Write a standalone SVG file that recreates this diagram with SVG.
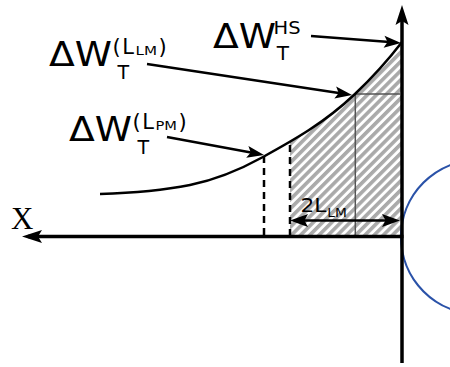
<svg xmlns="http://www.w3.org/2000/svg" width="450" height="367" viewBox="0 0 450 367">
<style>
  .lbl { font-family: "DejaVu Sans", "Liberation Sans", sans-serif; fill: #000; }
  .conn { stroke: #000; stroke-width: 2.5; fill: none; }
  .axis { stroke: #000; stroke-width: 3.5; fill: none; }
  .dash { stroke: #000; stroke-width: 2.5; stroke-dasharray: 7 5; fill: none; }
  .thin { stroke: #555; stroke-width: 1.5; fill: none; }
</style>
<defs>
  <marker id="axhead" markerUnits="userSpaceOnUse" orient="auto" refX="14" refY="0" markerWidth="22" markerHeight="16" overflow="visible">
    <path d="M0,-6.5 L20,0 L0,6.5 L4,0 Z" fill="#000"/>
  </marker>
  <marker id="head" markerUnits="userSpaceOnUse" orient="auto" refX="12" refY="0" markerWidth="20" markerHeight="14" overflow="visible">
    <path d="M0,-6 L17,0 L0,6 L3.5,0 Z" fill="#000"/>
  </marker>
  <marker id="dhead" markerUnits="userSpaceOnUse" orient="auto-start-reverse" refX="12" refY="0" markerWidth="20" markerHeight="16" overflow="visible">
    <path d="M0,-6.5 L18,0 L0,6.5 L3.5,0 Z" fill="#000"/>
  </marker>
  <pattern id="hatch" patternUnits="userSpaceOnUse" width="6.5" height="6.5" patternTransform="rotate(45)">
    <rect x="0" y="0" width="3.6" height="6.5" fill="#aaaaaa"/>
  </pattern>
  <clipPath id="under">
    <path d="M100,194 C130,193.1 160,191 190,185 C214.3,180.1 238.7,170.4 263,157 C293.7,140.1 324.3,123.1 355,94 C370.7,79.1 386.3,62.4 402,42 L402,240 L100,240 Z"/>
  </clipPath>
</defs>

<g id="hatched-region">
  <rect x="290" y="40" width="112" height="196.5" fill="url(#hatch)" clip-path="url(#under)"/>
  <line class="thin" x1="355.3" y1="94" x2="355.3" y2="236"/>
  <line class="thin" x1="355.3" y1="94" x2="400" y2="94"/>
</g>

<g id="dashed-lines">
  <line class="dash" x1="264" y1="156" x2="264" y2="236"/>
  <line class="dash" x1="290" y1="145" x2="290" y2="236"/>
</g>

<g id="curve">
  <path d="M100,194 C130,193.1 160,191 190,185 C214.3,180.1 238.7,170.4 263,157 C293.7,140.1 324.3,123.1 355,94 C370.7,79.1 386.3,62.4 402,42" stroke="#000" stroke-width="2.5" fill="none"/>
</g>

<g id="blue-ellipse">
  <circle cx="478" cy="237" r="77" stroke="#2a52a8" stroke-width="2.2" fill="none"/>
</g>

<g id="axes">
  <line class="axis" x1="402" y1="363" x2="402" y2="11" marker-end="url(#axhead)"/>
  <line class="axis" x1="403.5" y1="236.5" x2="28" y2="236.5" stroke-width="3" marker-end="url(#axhead)"/>
  <text x="11" y="228.5" font-family="'Liberation Serif', 'DejaVu Serif', serif" font-size="31">X</text>
</g>

<g id="connectors">
  <line class="conn" x1="311" y1="36" x2="396" y2="42.6" marker-end="url(#head)"/>
  <line class="conn" x1="147" y1="64" x2="347.1" y2="94.25" marker-end="url(#head)"/>
  <line class="conn" x1="167" y1="137" x2="259.1" y2="154.1" marker-end="url(#head)"/>
  <line class="conn" x1="296" y1="220.5" x2="394" y2="220.5" stroke-width="3" marker-start="url(#dhead)" marker-end="url(#dhead)"/>
</g>

<g id="label-hs" class="lbl">
  <text x="213" y="48" font-size="34" textLength="63" lengthAdjust="spacingAndGlyphs">ΔW</text>
  <text x="273.5" y="33.5" font-size="18.5" textLength="27" lengthAdjust="spacingAndGlyphs">HS</text>
  <text x="276.7" y="60" font-size="20">T</text>
</g>

<g id="label-llm" class="lbl">
  <text x="49" y="66" font-size="34" textLength="63" lengthAdjust="spacingAndGlyphs">ΔW</text>
  <text x="117.5" y="79" font-size="19">T</text>
  <text x="112.5" y="54" font-size="21">(</text>
  <text x="122.3" y="54" font-size="21">L</text>
  <text x="135.5" y="55" font-size="12.5" textLength="21.5" lengthAdjust="spacingAndGlyphs">LM</text>
  <text x="158.5" y="54" font-size="21">)</text>
</g>

<g id="label-lpm" class="lbl">
  <text x="69" y="141" font-size="34" textLength="63" lengthAdjust="spacingAndGlyphs">ΔW</text>
  <text x="137.5" y="154" font-size="19">T</text>
  <text x="132.5" y="129" font-size="21">(</text>
  <text x="142.3" y="129" font-size="21">L</text>
  <text x="155.5" y="130" font-size="12.5" textLength="21.5" lengthAdjust="spacingAndGlyphs">PM</text>
  <text x="178.5" y="129" font-size="21">)</text>
</g>

<g id="label-2llm" class="lbl">
  <text x="300.5" y="212" font-size="19" textLength="26" lengthAdjust="spacingAndGlyphs">2L</text>
  <text x="327.3" y="217.3" font-size="12.5" textLength="19.5" lengthAdjust="spacingAndGlyphs">LM</text>
</g>
</svg>
